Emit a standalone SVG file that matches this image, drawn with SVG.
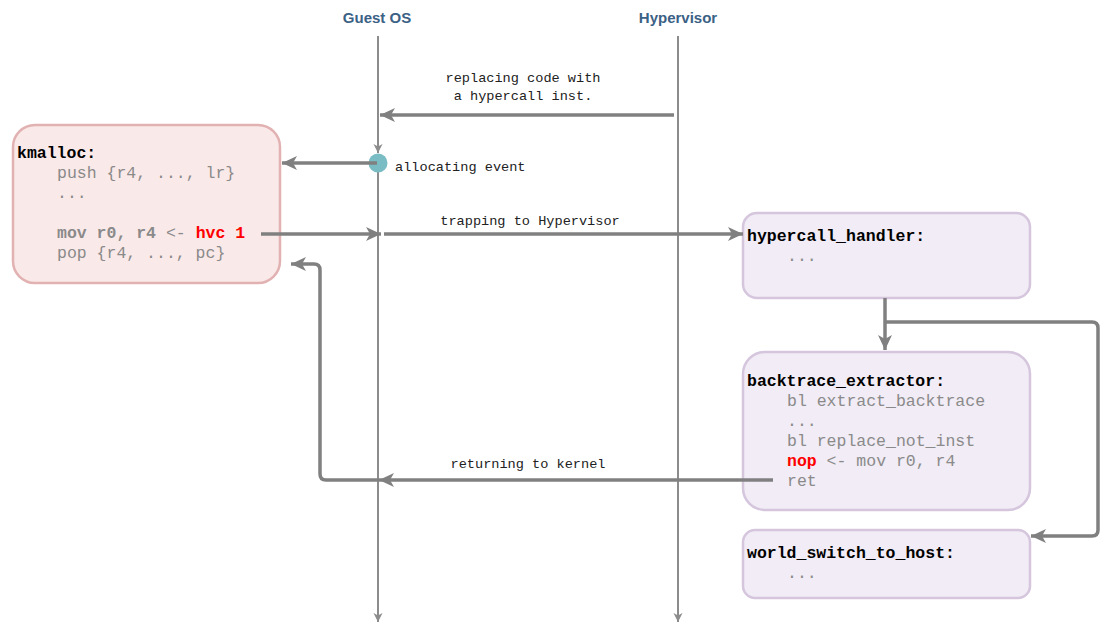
<svg xmlns="http://www.w3.org/2000/svg" width="1105" height="624" viewBox="0 0 1105 624">
  <defs>
    <style>
      .lane { font-family: "Liberation Sans", Arial, sans-serif; font-weight: bold; font-size: 15px; fill: #3b6185; }
      .lifeline { stroke: #8c8c8c; stroke-width: 2; fill: none; }
      .edge { stroke: #808080; stroke-width: 3.5; fill: none; stroke-linejoin: round; }
      .label { font-family: "Liberation Mono", "Courier New", monospace; font-size: 13.6px; fill: #222; }
      .code { font-family: "Liberation Mono", "Courier New", monospace; font-size: 16.5px; fill: #8a8a8a; }
      .title { fill: #000; font-weight: bold; }
      .bold { font-weight: bold; }
      .hot { fill: #ff0000; font-weight: bold; }
      .kernel { fill: #fae9e9; stroke: #e2b2b2; stroke-width: 2.5; }
      .hyp { fill: #f1ecf5; stroke: #d5c6de; stroke-width: 2.5; }
    </style>
    <marker id="arrow" markerUnits="userSpaceOnUse" markerWidth="16" markerHeight="14" refX="15" refY="7" orient="auto">
      <path d="M0,0 L15,7 L0,14 L4,7 z" fill="#808080"/>
    </marker>
    <marker id="arrowSmall" markerUnits="userSpaceOnUse" markerWidth="10" markerHeight="10" refX="9" refY="4.5" orient="auto">
      <path d="M0,0 L9,4.5 L0,9 L2.5,4.5 z" fill="#8c8c8c"/>
    </marker>
  </defs>

  <!-- lanes -->
  <g id="lane-guest">
    <text class="lane" x="377" y="23" text-anchor="middle">Guest OS</text>
    <path class="lifeline" d="M378,36 V153" marker-end="url(#arrowSmall)"/>
    <path class="lifeline" d="M378,163 V622" marker-end="url(#arrowSmall)"/>
  </g>
  <g id="lane-hypervisor">
    <text class="lane" x="678" y="23" text-anchor="middle">Hypervisor</text>
    <path class="lifeline" d="M678,36 V622" marker-end="url(#arrowSmall)"/>
  </g>

  <!-- nodes -->
  <g id="kmalloc">
    <rect class="kernel" x="13" y="125" width="267" height="158" rx="22"/>
    <text class="code" x="17" y="158"><tspan class="title">kmalloc:</tspan></text>
    <text class="code" x="57" y="178">push {r4, ..., lr}</text>
    <text class="code" x="57" y="198">...</text>
    <text class="code" x="57" y="238"><tspan class="bold">mov r0, r4</tspan> &lt;- <tspan class="hot">hvc 1</tspan></text>
    <text class="code" x="57" y="258">pop {r4, ..., pc}</text>
  </g>

  <g id="hypercall_handler">
    <rect class="hyp" x="743" y="213" width="287" height="85" rx="14"/>
    <text class="code" x="747" y="241"><tspan class="title">hypercall_handler:</tspan></text>
    <text class="code" x="787" y="261">...</text>
  </g>

  <g id="backtrace_extractor">
    <rect class="hyp" x="743" y="352" width="287" height="158" rx="22"/>
    <text class="code" x="747" y="386"><tspan class="title">backtrace_extractor:</tspan></text>
    <text class="code" x="787" y="406">bl extract_backtrace</text>
    <text class="code" x="787" y="426">...</text>
    <text class="code" x="787" y="446">bl replace_not_inst</text>
    <text class="code" x="787" y="466"><tspan class="hot">nop</tspan> &lt;- mov r0, r4</text>
    <text class="code" x="787" y="486">ret</text>
  </g>

  <g id="world_switch_to_host">
    <rect class="hyp" x="743" y="530" width="287" height="68" rx="12"/>
    <text class="code" x="747" y="558"><tspan class="title">world_switch_to_host:</tspan></text>
    <text class="code" x="787" y="578">...</text>
  </g>

  <g id="allocating-event">
    <circle cx="378" cy="163" r="9.5" fill="#79bcc4"/>
    <text class="label" x="395" y="171">allocating event</text>
  </g>

  <!-- connectors -->
  <g id="connectors">
    <path class="edge" d="M674,115 H380" marker-end="url(#arrow)"/>
    <text class="label" x="523" y="82" text-anchor="middle">replacing code with</text>
    <text class="label" x="523" y="100" text-anchor="middle">a hypercall inst.</text>

    <path class="edge" d="M377,163 H282" marker-end="url(#arrow)"/>

    <path class="edge" d="M261,234 H381" marker-end="url(#arrow)"/>
    <path class="edge" d="M384,234 H743" marker-end="url(#arrow)"/>
    <text class="label" x="530" y="225" text-anchor="middle">trapping to Hypervisor</text>

    <path class="edge" d="M885,298 V350" marker-end="url(#arrow)"/>
    <path class="edge" d="M885,322 H1092 Q1098,322 1098,328 V530 Q1098,536 1092,536 H1031" marker-end="url(#arrow)"/>

    <path class="edge" d="M773,480 H379" marker-end="url(#arrow)"/>
    <path class="edge" d="M379,480 H326 Q320,480 320,474 V270 Q320,264 314,264 H291" marker-end="url(#arrow)"/>
    <text class="label" x="528" y="468" text-anchor="middle">returning to kernel</text>
  </g>
</svg>
